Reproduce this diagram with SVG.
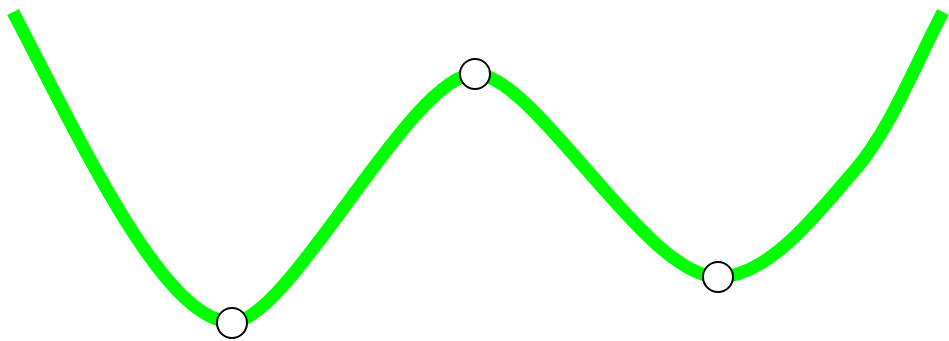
<svg xmlns="http://www.w3.org/2000/svg" width="949" height="341" viewBox="0 0 949 341">
<style>
.curve{fill:none;stroke:#00ff00;stroke-width:13}
.pt{fill:#ffffff;stroke:#000000;stroke-width:2}
</style>
<rect width="949" height="341" fill="#ffffff"/>
<g id="connectors">
<path class="curve" d="M13,12 C85,150 165,322 232,322 C290,322 410,74 475,74 C535,74 645,277 718,277 C770,277 820,210 855,170 C890,130 915,65 943,12"/>
</g>
<g id="p1"><circle class="pt" cx="232" cy="323" r="15"/></g>
<g id="p2"><circle class="pt" cx="475" cy="74" r="15"/></g>
<g id="p3"><circle class="pt" cx="718" cy="277" r="15"/></g>
</svg>
